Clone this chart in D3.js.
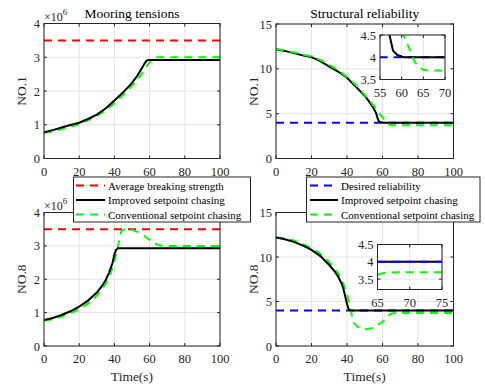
<!DOCTYPE html>
<html lang="en">
<head>
<meta charset="UTF-8">
<script src="https://d3js.org/d3.v7.min.js"></script>
<title>Mooring tensions and structural reliability</title>
<style>
  body { margin: 0; background: #fff; }
  svg text { font-family: "Liberation Serif", "Times New Roman", Times, serif; }
  .grid line { stroke: #e3e3e3; stroke-width: 1; }
  .tick-label { fill: #262626; font-size: 12.5px; }
  .frame { fill: none; stroke: #262626; stroke-width: 1; }
  .legend text { font-size: 11px; fill: #000; }
</style>
</head>
<body onload="main()">
<svg width="485" height="388" font-family="Liberation Serif, serif"></svg>
<script>
// time [s], value pairs
var tensionNo1Improved = [[0,0.78],[5,0.84],[10,0.92],[15,0.99],[20,1.06],[25,1.17],[30,1.3],[35,1.48],[40,1.72],[45,1.96],[50,2.24],[53,2.45],[55,2.62],[57,2.8],[58,2.88],[59,2.92],[100,2.92]];
var tensionNo1Conventional = [[0,0.76],[5,0.8],[10,0.87],[15,0.94],[20,1.02],[25,1.13],[30,1.26],[35,1.43],[40,1.64],[45,1.88],[50,2.15],[55,2.47],[58,2.7],[60,2.85],[62,2.95],[64,3.0],[100,3.0]];
var tensionNo8Improved = [[0,0.78],[5,0.84],[10,0.93],[15,1.04],[20,1.18],[25,1.36],[30,1.6],[33,1.8],[35,1.97],[37,2.2],[39,2.5],[40,2.75],[41,2.88],[42,2.93],[100,2.93]];
var tensionNo8Conventional = [[0,0.76],[5,0.8],[10,0.88],[15,0.98],[20,1.1],[25,1.27],[30,1.5],[35,1.85],[38,2.2],[40,2.55],[42,2.95],[43,3.25],[44,3.45],[46,3.5],[50,3.48],[55,3.38],[60,3.18],[63,3.07],[66,3.01],[70,3.0],[100,3.0]];
var breakingStrength = 3.5;

var reliabNo1Improved = [[0,12.2],[5,12.0],[10,11.75],[15,11.5],[20,11.3],[25,10.85],[30,10.25],[35,9.7],[40,9.0],[45,8.0],[50,7.0],[53,6.2],[55,5.6],[56.5,5.0],[57.2,4.5],[58,4.15],[59,4.05],[60.5,4.0],[100,4.0]];
var reliabNo1Conventional = [[0,12.2],[5,12.05],[10,11.85],[15,11.6],[20,11.4],[25,11.0],[30,10.45],[35,9.85],[40,9.1],[45,8.2],[50,7.1],[55,5.9],[58,5.1],[60.4,4.5],[62,4.15],[63,3.9],[64,3.78],[65,3.72],[66,3.7],[100,3.7]];
var reliabNo8Improved = [[0,12.2],[5,12.0],[10,11.7],[15,11.3],[20,10.8],[25,10.1],[30,9.1],[33,8.4],[35,7.8],[37,7.0],[38,6.4],[39,5.6],[40,4.7],[41,4.1],[42,4.0],[100,4.0]];
var reliabNo8Conventional = [[0,12.2],[5,12.1],[10,11.85],[15,11.45],[20,11.0],[25,10.35],[30,9.45],[35,8.2],[38,7.0],[40,5.9],[41,5.0],[42,4.1],[43,3.3],[44,2.6],[46,2.15],[48,1.95],[51,1.88],[54,2.0],[57,2.3],[60,2.7],[62,3.1],[64,3.5],[65,3.62],[66,3.68],[68,3.7],[100,3.7]];
var desiredReliability = 4.0;

var timeTicks = [0, 20, 40, 60, 80, 100];
var tensionTicks = [0, 1, 2, 3, 4];
var reliabTicks = [0, 5, 10, 15];
var inset1XTicks = [55, 60, 65, 70];
var inset2XTicks = [65, 70, 75];
var insetYTicks = [3.5, 4, 4.5];

var legendTension = ["Average breaking strength", "Improved setpoint chasing", "Conventional setpoint chasing"];
var legendReliab = ["Desired reliability", "Improved setpoint chasing", "Conventional setpoint chasing"];

function main() {
  var svg = d3.select("svg");
  var clipId = 0;

  function drawAxes(g, x, y, xt, yt) {
    var x0 = x.range()[0], x1 = x.range()[1], y0 = y.range()[0], y1 = y.range()[1];
    g.append("rect").attr("x", x0).attr("y", y1).attr("width", x1 - x0).attr("height", y0 - y1)
      .attr("fill", "#fff");
    var grid = g.append("g").attr("class", "grid");
    grid.selectAll(".gx").data(xt).enter().append("line")
      .attr("x1", function(d) { return x(d); }).attr("x2", function(d) { return x(d); })
      .attr("y1", y0).attr("y2", y1);
    grid.selectAll(".gy").data(yt).enter().append("line")
      .attr("y1", function(d) { return y(d); }).attr("y2", function(d) { return y(d); })
      .attr("x1", x0).attr("x2", x1);
    // inward ticks on all four sides, like matlab box on
    var tk = 3;
    var tg = g.append("g").attr("stroke", "#262626").attr("stroke-width", 1);
    xt.forEach(function(d) {
      tg.append("line").attr("x1", x(d)).attr("x2", x(d)).attr("y1", y0).attr("y2", y0 - tk);
      tg.append("line").attr("x1", x(d)).attr("x2", x(d)).attr("y1", y1).attr("y2", y1 + tk);
    });
    yt.forEach(function(d) {
      tg.append("line").attr("y1", y(d)).attr("y2", y(d)).attr("x1", x0).attr("x2", x0 + tk);
      tg.append("line").attr("y1", y(d)).attr("y2", y(d)).attr("x1", x1).attr("x2", x1 - tk);
    });
    g.selectAll(".xl").data(xt).enter().append("text").attr("class", "tick-label")
      .attr("x", function(d) { return x(d); }).attr("y", y0 + 17)
      .attr("text-anchor", "middle").text(function(d) { return d; });
    g.selectAll(".yl").data(yt).enter().append("text").attr("class", "tick-label")
      .attr("x", x0 - 4).attr("y", function(d) { return y(d) + 4.5; })
      .attr("text-anchor", "end").text(function(d) { return d; });
  }

  function drawSeries(g, x, y, series) {
    var x0 = x.range()[0], x1 = x.range()[1], y0 = y.range()[0], y1 = y.range()[1];
    var id = "clip" + (clipId++);
    g.append("clipPath").attr("id", id).append("rect")
      .attr("x", x0).attr("y", y1).attr("width", x1 - x0).attr("height", y0 - y1);
    var lg = g.append("g").attr("clip-path", "url(#" + id + ")");
    var line = d3.line().x(function(d) { return x(d[0]); }).y(function(d) { return y(d[1]); });
    series.forEach(function(s) {
      lg.append("path").datum(s.data).attr("d", line).attr("fill", "none")
        .attr("stroke", s.color).attr("stroke-width", 2)
        .attr("stroke-dasharray", s.dash ? "8,6" : null);
    });
  }

  function frame(g, x, y, w) {
    var x0 = x.range()[0], x1 = x.range()[1], y0 = y.range()[0], y1 = y.range()[1];
    g.append("rect").attr("class", "frame").attr("x", x0).attr("y", y1)
      .attr("width", x1 - x0).attr("height", y0 - y1).attr("stroke-width", w || 1);
  }

  function constLine(v) { return [[0, v], [100, v]]; }

  var panels = [
    { xr: [44, 220], yr: [158.5, 23.5], dom: [0, 4], yt: tensionTicks, lab: "NO.1", title: "Mooring tensions", exp: true,
      s: [{ data: constLine(breakingStrength), color: "#ff0000", dash: true },
          { data: tensionNo1Conventional, color: "#00ff00", dash: true },
          { data: tensionNo1Improved, color: "#000" }] },
    { xr: [276, 453.5], yr: [158.5, 24], dom: [0, 15], yt: reliabTicks, lab: "NO.1", title: "Structural reliability",
      s: [{ data: constLine(desiredReliability), color: "#0000ff", dash: true },
          { data: reliabNo1Improved, color: "#000" },
          { data: reliabNo1Conventional, color: "#00ff00", dash: true }],
      inset: { xr: [380, 445], yr: [79.5, 35], xd: [55, 70], yd: [3.5, 4.5], xt: inset1XTicks } },
    { xr: [44, 220], yr: [346, 212.5], dom: [0, 4], yt: tensionTicks, lab: "NO.8", xlab: true, exp: true,
      s: [{ data: constLine(breakingStrength), color: "#ff0000", dash: true },
          { data: tensionNo8Conventional, color: "#00ff00", dash: true },
          { data: tensionNo8Improved, color: "#000" }] },
    { xr: [276, 453.5], yr: [346, 212.5], dom: [0, 15], yt: reliabTicks, lab: "NO.8", xlab: true,
      s: [{ data: constLine(desiredReliability), color: "#0000ff", dash: true },
          { data: reliabNo8Conventional, color: "#00ff00", dash: true },
          { data: reliabNo8Improved, color: "#000" }],
      inset: { xr: [377.5, 442], yr: [289.5, 244.5], xd: [65, 75], yd: [3.2, 4.5], xt: inset2XTicks, order: [2, 1, 0] } }
  ];

  panels.forEach(function(p) {
    var g = svg.append("g");
    var x = d3.scaleLinear().domain([0, 100]).range(p.xr);
    var y = d3.scaleLinear().domain(p.dom).range(p.yr);
    drawAxes(g, x, y, timeTicks, p.yt);
    drawSeries(g, x, y, p.s);
    frame(g, x, y);
    var cx = (p.xr[0] + p.xr[1]) / 2, cy = (p.yr[0] + p.yr[1]) / 2;
    g.append("text").attr("transform", "translate(" + (p.xr[0] - 18.5) + "," + cy + ") rotate(-90)")
      .attr("text-anchor", "middle").attr("font-size", "13.5px").attr("fill", "#262626").text(p.lab);
    if (p.title) {
      g.append("text").attr("x", cx).attr("y", 17.5).attr("text-anchor", "middle")
        .attr("font-size", "13.5px").attr("fill", "#000").text(p.title);
    }
    if (p.xlab) {
      g.append("text").attr("x", cx).attr("y", 381).attr("text-anchor", "middle")
        .attr("font-size", "13.5px").attr("fill", "#262626").text("Time(s)");
    }
    if (p.exp) {
      var t = g.append("text").attr("x", p.xr[0]).attr("y", p.yr[1] - 2.5)
        .attr("font-size", "12px").attr("fill", "#262626");
      t.append("tspan").text("\u00d710");
      t.append("tspan").attr("dy", -6).attr("font-size", "9px").text("6");
    }
    if (p.inset) {
      var ig = svg.append("g");
      var ix = d3.scaleLinear().domain(p.inset.xd).range(p.inset.xr);
      var iy = d3.scaleLinear().domain(p.inset.yd).range(p.inset.yr);
      drawAxes(ig, ix, iy, p.inset.xt, insetYTicks);
      var ser = p.s;
      if (p.inset.order) ser = p.inset.order.map(function(i) { return p.s[i]; });
      drawSeries(ig, ix, iy, ser);
      frame(ig, ix, iy, 1.3);
    }
  });

  // legends on top
  function legend(x0, y0, w, items, colors, dashes, sx0, sx1) {
    var lg = svg.append("g").attr("class", "legend");
    lg.append("rect").attr("x", x0).attr("y", y0).attr("width", w).attr("height", 45)
      .attr("fill", "#fff").attr("stroke", "#262626").attr("stroke-width", 1);
    items.forEach(function(d, i) {
      var yy = y0 + 8.5 + i * 14.5;
      lg.append("line").attr("x1", sx0).attr("x2", sx1).attr("y1", yy).attr("y2", yy)
        .attr("stroke", colors[i]).attr("stroke-width", 2)
        .attr("stroke-dasharray", dashes[i] ? "8,6" : null);
      lg.append("text").attr("x", sx1 + 3).attr("y", yy + 4).text(d);
    });
  }
  legend(73.5, 177, 177, legendTension, ["#ff0000", "#000", "#00ff00"], [true, false, true], 76, 105);
  legend(306.5, 177, 173.5, legendReliab, ["#0000ff", "#000", "#00ff00"], [true, false, true], 310, 338);
}
</script>
</body>
</html>
